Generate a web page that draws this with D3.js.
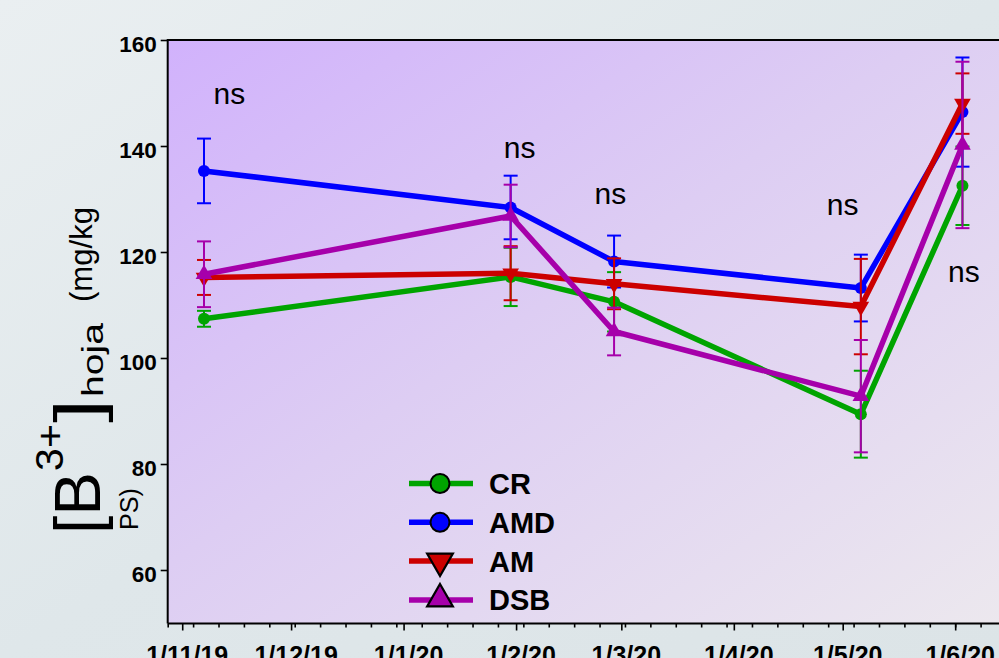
<!DOCTYPE html>
<html><head><meta charset="utf-8">
<script src="https://cdn.jsdelivr.net/npm/d3@7"></script>
<style>html,body{margin:0;padding:0;overflow:hidden;background:#e2e9ec}svg{display:block}</style>
</head><body>
<svg id="c" width="999" height="658"></svg>
<script>
// ---------- data ----------
const sampleDates = ["2019-11-07 00", "2020-01-30 12", "2020-02-28 00", "2020-05-06 00", "2020-06-03 00"];
const seriesNames = ["CR", "AMD", "AM", "DSB"];
const crValues  = [107.4, 115.3, 110.6, 89.4, 132.5];
const crErr     = [1.5, 5.5, 5.6, 8.2, 7.4];
const amdValues = [135.3, 128.4, 118.2, 113.2, 146.4];
const amdErr    = [6.1, 6.0, 4.9, 6.3, 10.3];
const amValues  = [115.2, 116.0, 114.0, 109.7, 148.0];
const amErr     = [3.3, 5.1, 4.8, 9.0, 5.7];
const dsbValues = [115.8, 126.8, 105.0, 92.8, 140.2];
const dsbErr    = [6.2, 5.9, 4.5, 10.6, 15.7];
const yTicks = [60, 80, 100, 120, 140, 160];
const nsText = "ns";
const nsDates  = ["2019-11-14 00", "2020-02-02 00", "2020-02-27 00", "2020-05-01 00", "2020-06-03 10"];
const nsValues = [147.9, 137.7, 129.1, 127.0, 114.4];

// ---------- setup ----------
const parse = d3.timeParse("%Y-%m-%d %H");
const svg = d3.select("#c");
const W = 999, H = 658;
const L = 167.7, T = 40, B = 623.5;
const x = d3.scaleTime()
  .domain([parse("2019-10-28 00"), parse("2020-06-15 00")])
  .range([L, L + 231 * 3.629]);
const y = d3.scaleLinear().domain([50, 160]).range([623, 40]);

const colors = {CR: "#00a400", AMD: "#0000ff", AM: "#cc0000", DSB: "#a600aa"};
const shapes = {CR: "circle", AMD: "circle", AM: "down", DSB: "up"};
const vals = {CR: crValues, AMD: amdValues, AM: amValues, DSB: dsbValues};
const errs = {CR: crErr, AMD: amdErr, AM: amErr, DSB: dsbErr};
const dates = sampleDates.map(parse);

const defs = svg.append("defs");
const bg = defs.append("linearGradient").attr("id", "bg").attr("x1", 0).attr("y1", 0).attr("x2", 1).attr("y2", 1);
bg.append("stop").attr("offset", 0).attr("stop-color", "#eaeff1");
bg.append("stop").attr("offset", 0.5).attr("stop-color", "#dfe7ea");
bg.append("stop").attr("offset", 1).attr("stop-color", "#dce4e7");
const pg = defs.append("linearGradient").attr("id", "pg").attr("x1", 0).attr("y1", 0).attr("x2", 1).attr("y2", 1);
pg.append("stop").attr("offset", 0).attr("stop-color", "#d1b2fc");
pg.append("stop").attr("offset", 0.45).attr("stop-color", "#ddcdf3");
pg.append("stop").attr("offset", 1).attr("stop-color", "#ece8ee");

svg.append("rect").attr("width", W).attr("height", H).attr("fill", "url(#bg)");
svg.append("rect").attr("x", L).attr("y", T).attr("width", x.range()[1] - L).attr("height", B - T).attr("fill", "url(#pg)");

// ns annotations
svg.append("g").selectAll("text").data(nsDates).join("text")
  .attr("x", (d) => x(parse(d))).attr("y", (d, i) => y(nsValues[i]))
  .attr("text-anchor", "middle")
  .attr("font-family", "Liberation Sans, Arial, sans-serif").attr("font-size", 30)
  .attr("fill", "#000").text(nsText);

function marker(g, shape, size, color, stroke) {
  if (shape === "circle") {
    g.append("circle").attr("r", size).attr("fill", color)
      .attr("stroke", stroke ? "#000" : "none").attr("stroke-width", 2);
  } else {
    const s = d3.symbol().type(d3.symbolTriangle).size(size * size * 2.6)();
    g.append("path").attr("d", s).attr("fill", color)
      .attr("transform", shape === "down" ? "rotate(180)" : null)
      .attr("stroke", stroke ? "#000" : "none").attr("stroke-width", 2.2).attr("stroke-linejoin", "miter");
  }
}

// series
const line = d3.line().x((d) => x(d[0])).y((d) => y(d[1]));
seriesNames.forEach((name) => {
  const c = colors[name];
  const pts = dates.map((d, i) => [d, vals[name][i], errs[name][i]]);
  const g = svg.append("g");
  g.append("path").datum(pts).attr("d", line).attr("fill", "none")
    .attr("stroke", c).attr("stroke-width", 5.5).attr("stroke-linejoin", "round");
  const eb = g.append("g").attr("stroke", c).attr("stroke-width", 2);
  pts.forEach((p) => {
    const px = x(p[0]), y1 = y(p[1] + p[2]), y2 = y(p[1] - p[2]);
    eb.append("line").attr("x1", px).attr("x2", px).attr("y1", y1).attr("y2", y2);
    eb.append("line").attr("x1", px - 7).attr("x2", px + 7).attr("y1", y1).attr("y2", y1);
    eb.append("line").attr("x1", px - 7).attr("x2", px + 7).attr("y1", y2).attr("y2", y2);
  });
  pts.forEach((p) => {
    const mg = g.append("g").attr("transform", `translate(${x(p[0])},${y(p[1])})`);
    marker(mg, shapes[name], shapes[name] === "circle" ? 6 : 6.8, c, false);
  });
});

// legend
const lg = svg.append("g");
seriesNames.forEach((name, i) => {
  const cy = 483.5 + i * 38.8;
  lg.append("line").attr("x1", 409).attr("x2", 473).attr("y1", cy).attr("y2", cy)
    .attr("stroke", colors[name]).attr("stroke-width", 5.5);
  const mg = lg.append("g").attr("transform", `translate(440,${cy + (shapes[name] === "down" ? 0 : shapes[name] === "up" ? -1 : 0)})`);
  marker(mg, shapes[name], shapes[name] === "circle" ? 9.5 : 10.5, colors[name], true);
  lg.append("text").attr("x", 489).attr("y", cy + 10.5)
    .attr("font-family", "Liberation Sans, Arial, sans-serif").attr("font-weight", "bold")
    .attr("font-size", 29).attr("fill", "#000").text(name);
});

// axes
const fontF = "Liberation Sans, Arial, sans-serif";
const yAx = svg.append("g").attr("transform", `translate(${L},0)`)
  .call(d3.axisLeft(y).tickValues(yTicks).tickSize(7).tickPadding(4).tickFormat(d3.format("d")));
yAx.select(".domain").remove();
yAx.selectAll("line").attr("stroke", "#000").attr("stroke-width", 1.6);
yAx.selectAll("text").attr("font-family", fontF).attr("font-weight", "bold").attr("font-size", 22.5)
  .attr("fill", "#000").attr("dy", "0.52em");

const minor = d3.timeMonday.range(x.domain()[0], x.domain()[1]);
const months = d3.timeMonth.range(parse("2019-11-01 00"), x.domain()[1]);
const xMin = svg.append("g").attr("transform", `translate(0,${B})`)
  .call(d3.axisBottom(x).tickValues(minor).tickSize(4).tickFormat(""));
xMin.select(".domain").remove();
xMin.selectAll("line").attr("stroke", "#000").attr("stroke-width", 1.6);
const xMaj = svg.append("g").attr("transform", `translate(0,${B})`)
  .call(d3.axisBottom(x).tickValues(months).tickSize(7).tickFormat(d3.timeFormat("%-d/%-m/%y")));
xMaj.select(".domain").remove();
xMaj.selectAll("line").attr("stroke", "#000").attr("stroke-width", 1.6);
xMaj.selectAll("text").attr("font-family", fontF).attr("font-weight", "bold").attr("font-size", 25)
  .attr("fill", "#000").attr("y", 23).attr("dx", 4.5);

// frame
svg.append("path").attr("d", `M${L},${B}V${T}H${W + 10}`).attr("fill", "none").attr("stroke", "#000").attr("stroke-width", 2);
svg.append("line").attr("x1", L).attr("x2", W + 10).attr("y1", B).attr("y2", B).attr("stroke", "#000").attr("stroke-width", 2);

// y axis title pieces (rotated)
const yt = svg.append("g").attr("font-family", fontF).attr("fill", "#000");
function rt(txt, bx, sy, fs, len) {
  yt.append("text").attr("transform", `translate(${bx},${sy}) rotate(-90)`)
    .attr("font-size", fs).attr("textLength", len).attr("lengthAdjust", "spacingAndGlyphs").text(txt);
}
rt("[B", 100, 534, 64, 62);
rt("3+", 63, 471, 38, 47);
rt("]", 100, 423, 64, 24);
rt("hoja", 103, 397, 30, 74);
rt("(mg/kg", 92, 302, 32, 95);
rt("PS)", 138, 530, 26, 42);
</script>
</body></html>
